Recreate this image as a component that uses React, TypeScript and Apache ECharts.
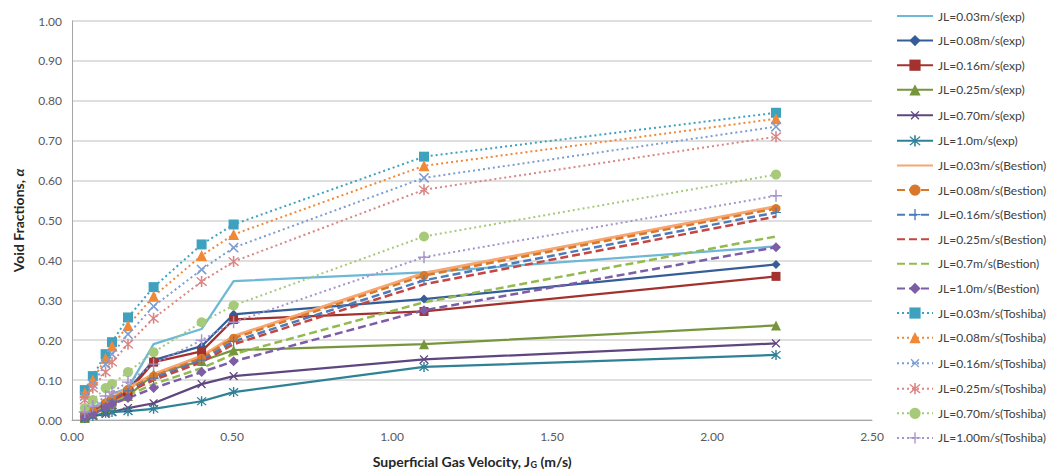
import React, { useEffect, useRef } from "react";
import * as echarts from "echarts";

// Superficial gas velocity (m/s)
const jg = [0.04, 0.065, 0.105, 0.125, 0.175, 0.255, 0.405, 0.505, 1.1, 2.2];

// Experimental
const exp003 = [0.01, 0.03, 0.05, 0.065, 0.08, 0.19, 0.228, 0.348, 0.37, 0.435];
const exp008 = [0.01, 0.02, 0.04, 0.05, 0.075, 0.15, 0.185, 0.265, 0.303, 0.39];
const exp016 = [0.01, 0.02, 0.035, 0.045, 0.07, 0.145, 0.172, 0.252, 0.272, 0.36];
const exp025 = [0.005, 0.015, 0.03, 0.04, 0.06, 0.115, 0.148, 0.175, 0.19, 0.237];
const exp070 = [0.005, 0.01, 0.015, 0.02, 0.03, 0.042, 0.09, 0.11, 0.152, 0.192];
const exp100 = [0.005, 0.01, 0.018, 0.02, 0.022, 0.028, 0.047, 0.07, 0.133, 0.163];

// Bestion correlation
const bes003 = [0.01, 0.025, 0.045, 0.055, 0.08, 0.115, 0.16, 0.21, 0.368, 0.535];
const bes008 = [0.01, 0.022, 0.043, 0.053, 0.077, 0.11, 0.155, 0.205, 0.362, 0.53];
const bes016 = [0.01, 0.02, 0.04, 0.05, 0.073, 0.105, 0.15, 0.197, 0.35, 0.52];
const bes025 = [0.01, 0.02, 0.038, 0.048, 0.07, 0.1, 0.145, 0.19, 0.34, 0.51];
const bes070 = [0.008, 0.018, 0.033, 0.042, 0.062, 0.09, 0.13, 0.165, 0.295, 0.46];
const bes100 = [0.007, 0.015, 0.03, 0.04, 0.055, 0.08, 0.12, 0.147, 0.275, 0.433];

// Toshiba correlation
const tos003 = [0.075, 0.11, 0.165, 0.195, 0.257, 0.333, 0.44, 0.49, 0.66, 0.77];
const tos008 = [0.068, 0.1, 0.155, 0.185, 0.237, 0.31, 0.412, 0.465, 0.637, 0.755];
const tos016 = [0.06, 0.09, 0.14, 0.165, 0.215, 0.285, 0.377, 0.432, 0.607, 0.735];
const tos025 = [0.05, 0.08, 0.12, 0.145, 0.19, 0.255, 0.347, 0.397, 0.577, 0.71];
const tos070 = [0.03, 0.05, 0.08, 0.09, 0.12, 0.17, 0.245, 0.287, 0.46, 0.615];
const tos100 = [0.02, 0.035, 0.06, 0.07, 0.095, 0.14, 0.2, 0.245, 0.408, 0.562];

const yTicks = { min: 0, max: 1, interval: 0.1 };
const xTicks = { min: 0, max: 2.5, interval: 0.5 };

const PLUS = "path://M4.4,0H5.6V4.4H10V5.6H5.6V10H4.4V5.6H0V4.4H4.4Z";
const STAR =
  "path://M4.4,0H5.6V10H4.4Z M0.8,1.6L1.6,0.8L9.2,8.4L8.4,9.2Z M8.4,0.8L9.2,1.6L1.6,9.2L0.8,8.4Z";

const DASH = [8, 4];
const DOT = [2, 3];

type Def = {
  name: string;
  values: number[];
  color: string;
  line: "solid" | number[];
  width: number;
  symbol: string;
  size?: number;
  rotate?: number;
};

const defs: Def[] = [
  { name: "JL=0.03m/s(exp)", values: exp003, color: "#6DB8D6", line: "solid", width: 2.25, symbol: "none" },
  { name: "JL=0.08m/s(exp)", values: exp008, color: "#355E98", line: "solid", width: 2.25, symbol: "diamond", size: 9 },
  { name: "JL=0.16m/s(exp)", values: exp016, color: "#A3322F", line: "solid", width: 2.25, symbol: "rect", size: 9 },
  { name: "JL=0.25m/s(exp)", values: exp025, color: "#77963C", line: "solid", width: 2.25, symbol: "triangle", size: 10 },
  { name: "JL=0.70m/s(exp)", values: exp070, color: "#5E467F", line: "solid", width: 2.25, symbol: PLUS, size: 11, rotate: 45 },
  { name: "JL=1.0m/s(exp)", values: exp100, color: "#2F8196", line: "solid", width: 2.25, symbol: STAR, size: 10 },
  { name: "JL=0.03m/s(Bestion)", values: bes003, color: "#F6A66E", line: "solid", width: 3, symbol: "none" },
  { name: "JL=0.08m/s(Bestion)", values: bes008, color: "#D9782A", line: DASH, width: 2.5, symbol: "circle", size: 9 },
  { name: "JL=0.16m/s(Bestion)", values: bes016, color: "#4A7CBC", line: DASH, width: 2.5, symbol: PLUS, size: 10 },
  { name: "JL=0.25m/s(Bestion)", values: bes025, color: "#C54542", line: DASH, width: 2.5, symbol: "none" },
  { name: "JL=0.7m/s(Bestion)", values: bes070, color: "#93BA4E", line: DASH, width: 2.5, symbol: "none" },
  { name: "JL=1.0m/s(Bestion)", values: bes100, color: "#7C5DA6", line: DASH, width: 2.5, symbol: "diamond", size: 10 },
  { name: "JL=0.03m/s(Toshiba)", values: tos003, color: "#3EA2BF", line: DOT, width: 2, symbol: "rect", size: 10 },
  { name: "JL=0.08m/s(Toshiba)", values: tos008, color: "#F08838", line: DOT, width: 2, symbol: "triangle", size: 11 },
  { name: "JL=0.16m/s(Toshiba)", values: tos016, color: "#7C9CD2", line: DOT, width: 2, symbol: PLUS, size: 13, rotate: 45 },
  { name: "JL=0.25m/s(Toshiba)", values: tos025, color: "#D98583", line: DOT, width: 2, symbol: STAR, size: 11 },
  { name: "JL=0.70m/s(Toshiba)", values: tos070, color: "#A6C97A", line: DOT, width: 2, symbol: "circle", size: 10 },
  { name: "JL=1.00m/s(Toshiba)", values: tos100, color: "#A493CC", line: DOT, width: 2, symbol: PLUS, size: 12 },
];

const FONT = "Lato, 'Open Sans', sans-serif";

export default function App() {
  const ref = useRef<HTMLDivElement>(null);
  useEffect(() => {
    document.body.style.margin = "0";
    if (!ref.current) return;
    const chart = echarts.init(ref.current, null, { renderer: "svg" });
    const series = defs.map((d) => ({
      name: d.name,
      type: "line",
      data: jg.map((x, i) => [x, d.values[i]]),
      symbol: d.symbol,
      symbolSize: d.size ?? 8,
      symbolRotate: d.rotate ?? 0,
      showSymbol: d.symbol !== "none",
      color: d.color,
      itemStyle: { color: d.color },
      lineStyle: { color: d.color, width: d.width, type: d.line, cap: "butt" },
      emphasis: { disabled: true },
    }));
    chart.setOption({
      animation: false,
      backgroundColor: "#ffffff",
      textStyle: { fontFamily: FONT },
      grid: { left: 72, right: 176, top: 21, bottom: 53, containLabel: false },
      legend: {
        orient: "vertical",
        left: 891,
        top: 4,
        itemWidth: 36,
        itemHeight: 14,
        itemGap: 10.6,
        textStyle: { fontSize: 12, color: "#404040", fontFamily: FONT, lineHeight: 14 },
        data: defs.map((d) =>
          d.symbol === "none"
            ? { name: d.name, itemStyle: { opacity: 0 } }
            : { name: d.name }
        ),
      },
      xAxis: {
        type: "value",
        min: xTicks.min,
        max: xTicks.max,
        interval: xTicks.interval,
        name: "Superficial Gas Velocity, J{s|G} (m/s)",
        nameLocation: "middle",
        nameGap: 34,
        nameTextStyle: {
          fontSize: 14,
          fontWeight: "bold",
          color: "#262626",
          fontFamily: FONT,
          rich: { s: { fontSize: 9, fontWeight: "bold", color: "#262626", verticalAlign: "bottom", padding: [6, 0, 0, 0] } },
        },
        axisLine: { show: true, lineStyle: { color: "#A6A6A6", width: 1 } },
        axisTick: { show: false },
        splitLine: { show: false },
        axisLabel: {
          fontSize: 12,
          color: "#595959",
          margin: 10,
          formatter: (v: number) => v.toFixed(2),
        },
      },
      yAxis: {
        type: "value",
        min: yTicks.min,
        max: yTicks.max,
        interval: yTicks.interval,
        name: "Void Fractions, {a|α}",
        nameLocation: "middle",
        nameGap: 47,
        nameRotate: 90,
        nameTextStyle: {
          fontSize: 14,
          fontWeight: "bold",
          color: "#262626",
          fontFamily: FONT,
          rich: { a: { fontSize: 14, fontStyle: "italic", fontWeight: "bold", color: "#262626" } },
        },
        axisLine: { show: true, lineStyle: { color: "#A6A6A6", width: 1 } },
        axisTick: { show: false },
        splitLine: { show: true, lineStyle: { color: "#D4D4D4", width: 1.5 } },
        axisLabel: {
          fontSize: 12,
          color: "#595959",
          margin: 10,
          formatter: (v: number) => v.toFixed(2),
        },
      },
      series,
    });
    return () => chart.dispose();
  }, []);
  return <div ref={ref} style={{ width: 1048, height: 474 }} />;
}
